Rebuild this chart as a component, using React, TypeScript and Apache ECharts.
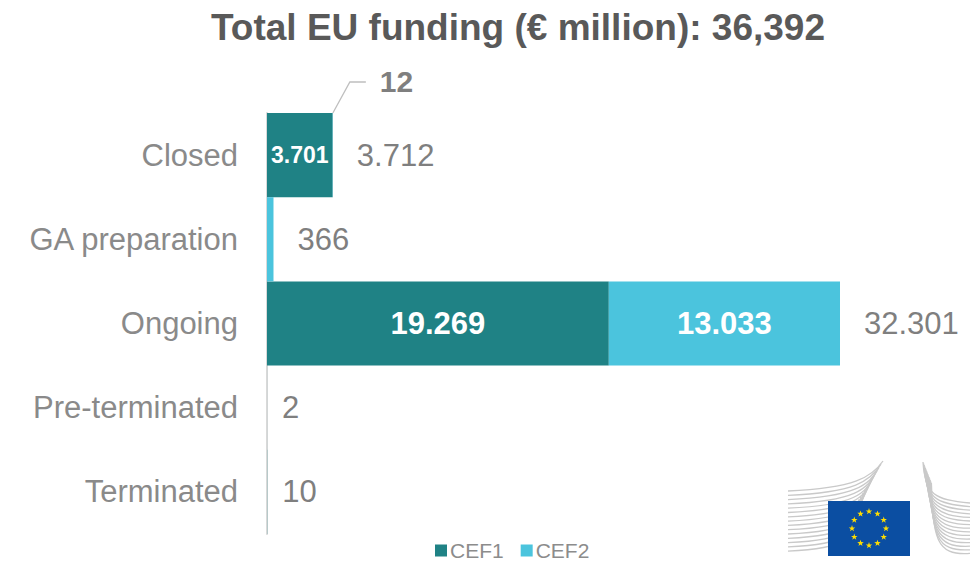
import React, { useEffect, useRef } from "react";
import * as echarts from "echarts";

const categories = ["Closed", "GA preparation", "Ongoing", "Pre-terminated", "Terminated"];
const cef1 = [3701, 0, 19269, 2, 10];
const cef2 = [12, 366, 13033, 0, 0];
const totals = [3712, 366, 32301, 2, 10];
const titleText = "Total EU funding (€ million): 36,392";

const C1 = "#1f8285";
const C2 = "#4bc4dd";
const GRAY = "#7f7f7f";
const FONT = "'Liberation Sans', Arial, sans-serif";

const fmt = (v: number) => String(v).replace(/\B(?=(\d{3})+(?!\d))/g, ".");

function starPoints(cx: number, cy: number, r: number) {
  const pts: number[][] = [];
  for (let i = 0; i < 10; i++) {
    const a = -Math.PI / 2 + (i * Math.PI) / 5;
    const rr = i % 2 === 0 ? r : r * 0.4;
    pts.push([cx + rr * Math.cos(a), cy + rr * Math.sin(a)]);
  }
  return pts;
}

function logoElements() {
  const els: any[] = [];
  const line = { stroke: "#c9c9c9", lineWidth: 1.3, fill: "none" };
  for (let k = 0; k < 15; k++) {
    const y0 = 491 + k * 4.3;
    els.push({
      type: "bezierCurve",
      silent: true,
      shape: { x1: 788, y1: y0, cpx1: 855, cpy1: y0 - 3, cpx2: 872 - k * 1.5, cpy2: y0 - 14, x2: 883 - k * 2, y2: 461 + k * 3.2 },
      style: line,
    });
  }
  for (let k = 0; k < 15; k++) {
    const x0 = 923 + k * 0.6;
    els.push({
      type: "bezierCurve",
      silent: true,
      shape: { x1: x0, y1: 462 + k * 1.5, cpx1: x0 + 2, cpy1: 495 + k * 3, cpx2: 935, cpy2: 500 + k * 4, x2: 970, y2: 503 + k * 3.6 },
      style: line,
    });
  }
  els.push({ type: "rect", silent: true, shape: { x: 828, y: 501, width: 82, height: 55 }, style: { fill: "#0b4ea2" } });
  for (let i = 0; i < 12; i++) {
    const a = (i * Math.PI) / 6;
    els.push({
      type: "polygon",
      silent: true,
      shape: { points: starPoints(869 + 17 * Math.cos(a), 528.5 + 17 * Math.sin(a), 3.4) },
      style: { fill: "#ffdd00" },
    });
  }
  return els;
}

export default function App() {
  const ref = useRef<HTMLDivElement>(null);
  useEffect(() => {
    document.body.style.margin = "0";
    if (!ref.current) return;
    const chart = echarts.init(ref.current, null, { renderer: "svg" });
    const option: any = {
      animation: false,
      backgroundColor: "#ffffff",
      title: {
        text: titleText,
        left: 206,
        top: 4,
        textStyle: { fontFamily: FONT, fontSize: 37, fontWeight: "bold", color: "#595959" },
      },
      legend: {
        data: ["CEF1", "CEF2"],
        left: 433,
        top: 538,
        padding: 2,
        icon: "rect",
        itemWidth: 12,
        itemHeight: 12,
        itemGap: 17,
        textStyle: { fontFamily: FONT, fontSize: 21, color: "#8c8c8c", padding: [0, 0, 0, -2] },
      },
      grid: { left: 267, top: 113, height: 421, width: 638.6 },
      xAxis: {
        type: "value",
        min: 0,
        max: 36000,
        show: false,
        splitLine: { show: false },
      },
      yAxis: {
        type: "category",
        data: categories,
        inverse: true,
        axisLine: { show: true, lineStyle: { color: "#d9d9d9", width: 2 } },
        axisTick: { show: false },
        axisLabel: { fontFamily: FONT, fontSize: 31, color: "#8a8a8a", margin: 29 },
      },
      series: [
        {
          name: "Totals",
          type: "bar",
          barWidth: "100%",
          barGap: "-100%",
          silent: true,
          z: 1,
          itemStyle: { color: "rgba(0,0,0,0)" },
          data: totals.map((v, i) => ({
            value: v,
            label: {
              show: true,
              position: "right",
              distance: i >= 3 ? 15 : 24,
              formatter: () => fmt(v),
              fontFamily: FONT,
              fontSize: 31,
              color: GRAY,
            },
          })),
        },
        {
          name: "CEF1",
          type: "bar",
          stack: "s",
          barWidth: "100%",
          z: 2,
          itemStyle: { color: C1 },
          data: cef1.map((v) => ({
            value: v,
            label: {
              show: v > 1000,
              position: "inside",
              formatter: () => fmt(v),
              fontFamily: FONT,
              fontWeight: "bold",
              fontSize: v > 10000 ? 31 : 23,
              color: "#ffffff",
            },
          })),
        },
        {
          name: "CEF2",
          type: "bar",
          stack: "s",
          barWidth: "100%",
          z: 2,
          itemStyle: { color: C2 },
          data: cef2.map((v) => ({
            value: v,
            label: {
              show: v > 1000,
              position: "inside",
              formatter: () => fmt(v),
              fontFamily: FONT,
              fontWeight: "bold",
              fontSize: 31,
              color: "#ffffff",
            },
          })),
        },
      ],
    };
    chart.setOption(option);

    const p0 = chart.convertToPixel({ gridIndex: 0 }, [cef1[0] + cef2[0], categories[0]]) as number[];
    const p1 = chart.convertToPixel({ gridIndex: 0 }, [0, categories[1]]) as number[];
    const bw = Math.abs(p1[1] - p0[1]);
    const top = p0[1] - bw / 2;
    const x = p0[0];
    chart.setOption({
      graphic: [
        {
          type: "polyline",
          silent: true,
          shape: { points: [[x, top], [x + 17, top - 31], [x + 33, top - 31]] },
          style: { stroke: "#bfbfbf", lineWidth: 1.3, fill: "none" },
        },
        {
          type: "text",
          silent: true,
          x: x + 47,
          y: top - 32,
          style: {
            text: String(cef2[0]),
            fontFamily: FONT,
            fontWeight: "bold",
            fontSize: 30,
            fill: GRAY,
            verticalAlign: "middle",
            align: "left",
          },
        },
        ...logoElements(),
      ],
    });
    return () => chart.dispose();
  }, []);
  return <div ref={ref} style={{ width: 970, height: 565 }} />;
}
